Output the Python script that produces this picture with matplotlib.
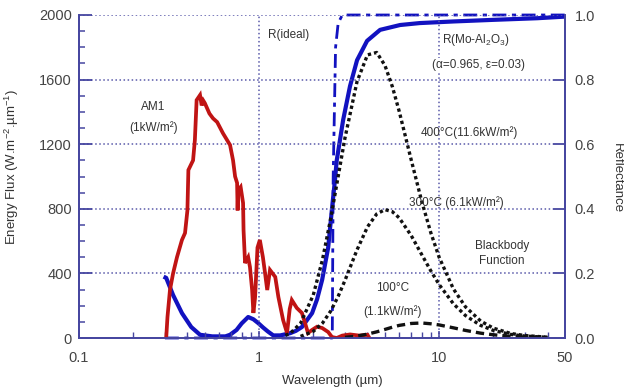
import numpy as np
import matplotlib
matplotlib.use('Agg')
import matplotlib.pyplot as plt
from matplotlib.ticker import MultipleLocator, LogLocator, NullFormatter

plt.rcParams['font.family'] = ['Liberation Sans', 'DejaVu Sans']

# AM1 solar spectrum (W m-2 um-1)
am1_wl = [0.305, 0.31, 0.32, 0.333, 0.35, 0.373, 0.388, 0.40, 0.405, 0.43, 0.44, 0.45,
          0.47, 0.48, 0.49, 0.50, 0.53, 0.555, 0.585, 0.63, 0.69, 0.717, 0.736, 0.755,
          0.76, 0.765, 0.79, 0.815, 0.82, 0.836, 0.87, 0.89, 0.915, 0.93, 0.95, 0.98,
          1.01, 1.05, 1.08, 1.11, 1.15, 1.23, 1.28, 1.36, 1.43, 1.48, 1.52, 1.62, 1.73,
          1.80, 1.87, 1.97, 2.10, 2.24, 2.42, 2.54, 2.7, 2.9, 3.2, 3.6, 4.0, 4.1]
am1_flux = [0, 130, 297, 400, 500, 607, 650, 790, 1040, 1100, 1225, 1473,
            1504, 1440, 1470, 1454, 1390, 1360, 1337, 1268, 1195, 1100, 1000, 960,
            790, 915, 935, 836, 668, 464, 500, 440, 297, 155, 250, 560,
            607, 501, 400, 297, 421, 378, 254, 111, 31, 180, 235, 186, 155,
            93, 31, 50, 70, 62, 37, 6, 0, 15, 22, 15, 20, 0]

# reflectance of Mo-Al2O3 selective coating
r_wl = [0.295, 0.305, 0.333, 0.373, 0.42, 0.47, 0.55, 0.65, 0.69, 0.75, 0.80, 0.87,
        0.93, 0.99, 1.05, 1.12, 1.2, 1.31, 1.49, 1.6, 1.73, 1.97, 2.1, 2.24, 2.42,
        2.54, 2.64, 2.70, 2.93, 3.2, 3.5, 3.98, 4.7, 6.07, 7.8, 12, 20, 35, 50]
r_mo = [0.19, 0.186, 0.133, 0.077, 0.034, 0.01, 0.005, 0.005, 0.01, 0.025, 0.045, 0.065,
        0.058, 0.046, 0.033, 0.02, 0.008, 0.008, 0.015, 0.022, 0.034, 0.077, 0.12, 0.18, 0.28,
        0.40, 0.49, 0.55, 0.675, 0.78, 0.86, 0.92, 0.954, 0.969, 0.975, 0.98, 0.985, 0.99, 0.995]

# ideal step reflectance
ideal_wl = [0.3, 2.55, 2.58, 2.66, 2.75, 2.9, 50]
r_ideal = [0, 0, 0.5, 0.9, 0.975, 1.0, 1.0]

# blackbody curves
bb400_wl = [1.4, 1.5, 1.7, 2.0, 2.25, 2.5, 2.75, 3, 3.5, 4, 4.5, 5, 5.5, 6, 7, 8, 9,
            10, 12, 14, 17, 20, 25, 30, 40]
bb400 = [16, 32, 91, 266, 485, 741, 1001, 1239, 1588, 1753, 1768, 1688, 1556, 1404, 1102,
         847, 650, 500, 304, 193, 105, 61, 28, 15, 5]
bb300_wl = [1.7, 2.0, 2.25, 2.5, 2.75, 3, 3.5, 4, 4.5, 5, 5.5, 6, 7, 8, 9,
            10, 12, 14, 17, 20, 25, 30, 40]
bb300 = [10, 41, 92, 167, 258, 357, 546, 688, 768, 795, 782, 744, 634, 517, 415,
         331, 212, 139, 78, 47, 22, 12, 4]
bb100_wl = [3, 3.5, 4, 4.5, 5, 5.5, 6, 7, 8, 9, 10, 12, 14, 17, 20, 25, 30, 40]
bb100 = [4, 12, 24, 38, 53, 67, 78, 90, 93, 88, 81, 63, 47, 30, 20, 10, 6, 2]

spine_c = '#4646a0'
grid_c = '#5a5aaa'
txt_c = '#333333'
red = '#c01414'
blue = '#1212c0'

fig = plt.figure(figsize=(6.24, 3.88), dpi=100)
ax = fig.add_axes([79 / 624, 50 / 388, 486 / 624, 323 / 388])
ax2 = ax.twinx()
ax.set_zorder(ax2.get_zorder() + 1)
ax.patch.set_visible(False)

ax2.plot(r_wl, r_mo, color=blue, lw=3.0, solid_capstyle='butt')
ax2.plot(ideal_wl, r_ideal, color=blue, lw=2.0, ls=(0, (5, 2, 1.5, 2)), clip_on=False)

ax.plot(am1_wl, am1_flux, color=red, lw=2.7, solid_joinstyle='miter')
ax.plot(bb400_wl, bb400, color='#111111', lw=2.4, ls=(0, (1, 0.9)))
ax.plot(bb300_wl, bb300, color='#111111', lw=2.4, ls=(0, (1, 0.9)))
ax.plot(bb100_wl, bb100, color='#111111', lw=2.4, ls=(0, (2.5, 1.5)))

ax.set_xscale('log')
ax.set_xlim(0.1, 50)
ax.set_ylim(0, 2000)
ax2.set_ylim(0, 1)
ax.set_xticks([0.1, 1, 10, 50])
ax.set_xticklabels(['0.1', '1', '10', '50'])
ax.xaxis.set_minor_locator(LogLocator(base=10, subs=np.arange(2, 10)))
ax.xaxis.set_minor_formatter(NullFormatter())
ax.yaxis.set_major_locator(MultipleLocator(400))
ax.yaxis.set_minor_locator(MultipleLocator(100))
ax2.set_yticks([0, 0.2, 0.4, 0.6, 0.8, 1.0])
ax2.set_yticklabels(['0.0', '0.2', '0.4', '0.6', '0.8', '1.0'])

ax.grid(True, which='major', ls=':', color=grid_c, lw=1.1)

for a in (ax, ax2):
    for s in a.spines.values():
        s.set_color(spine_c)
        s.set_linewidth(1.3)
    a.spines['top'].set_visible(False)

ax.tick_params(axis='y', which='major', direction='in', length=9, width=1.3,
               color=spine_c, labelsize=10.5, labelcolor='#444444', pad=5)
ax.tick_params(axis='y', which='minor', direction='in', length=4.5, width=1.1, color=spine_c)
ax.tick_params(axis='x', which='major', direction='in', length=5, width=1.1,
               color=spine_c, labelsize=10.5, labelcolor='#444444', pad=9)
ax.tick_params(axis='x', which='minor', direction='in', length=4, width=1.0, color=spine_c)
ax2.tick_params(axis='y', which='major', direction='in', length=9, width=1.3,
                color=spine_c, labelsize=10.5, labelcolor='#444444', pad=7)

fs = 8.5
ax.text(0.258, 1430, 'AM1', ha='center', va='center', fontsize=fs, color=txt_c)
ax.text(0.258, 1300, '(1kW/m²)', ha='center', va='center', fontsize=fs, color=txt_c)
ax.text(1.45, 1875, 'R(ideal)', ha='center', va='center', fontsize=fs, color=txt_c)
ax.text(16.0, 1845, 'R(Mo-Al$\\mathregular{_2}$O$\\mathregular{_3}$)', ha='center', va='center',
        fontsize=fs, color=txt_c, bbox=dict(fc='white', ec='none', pad=0.5))
ax.text(16.5, 1690, '(α=0.965, ε=0.03)', ha='center', va='center', fontsize=fs, color=txt_c,
        bbox=dict(fc='white', ec='none', pad=0.5))
ax.text(14.7, 1269, '400°C(11.6kW/m²)', ha='center', va='center', fontsize=fs, color=txt_c)
ax.text(12.4, 836, '300°C (6.1kW/m²)', ha='center', va='center', fontsize=fs, color=txt_c)
ax.text(22.4, 523, 'Blackbody\nFunction', ha='center', va='center', fontsize=fs,
        color=txt_c, linespacing=1.25)
ax.text(5.55, 310, '100°C', ha='center', va='center', fontsize=fs, color=txt_c)
ax.text(5.5, 161, '(1.1kW/m²)', ha='center', va='center', fontsize=fs, color=txt_c)

fig.text(12 / 624, 1 - 167 / 388, 'Energy Flux (W.m$\\mathregular{^{-2}}$.µm$\\mathregular{^{-1}}$)',
         rotation=90, ha='center', va='center', fontsize=9.5, color=txt_c)
fig.text(617 / 624, 1 - 178 / 388, 'Reflectance', rotation=270, ha='center', va='center',
         fontsize=9.5, color=txt_c)
fig.text(332 / 624, 1 - 381 / 388, 'Wavelength (µm)', ha='center', va='center',
         fontsize=9.5, color=txt_c)

fig.savefig('out.png', dpi=100)
